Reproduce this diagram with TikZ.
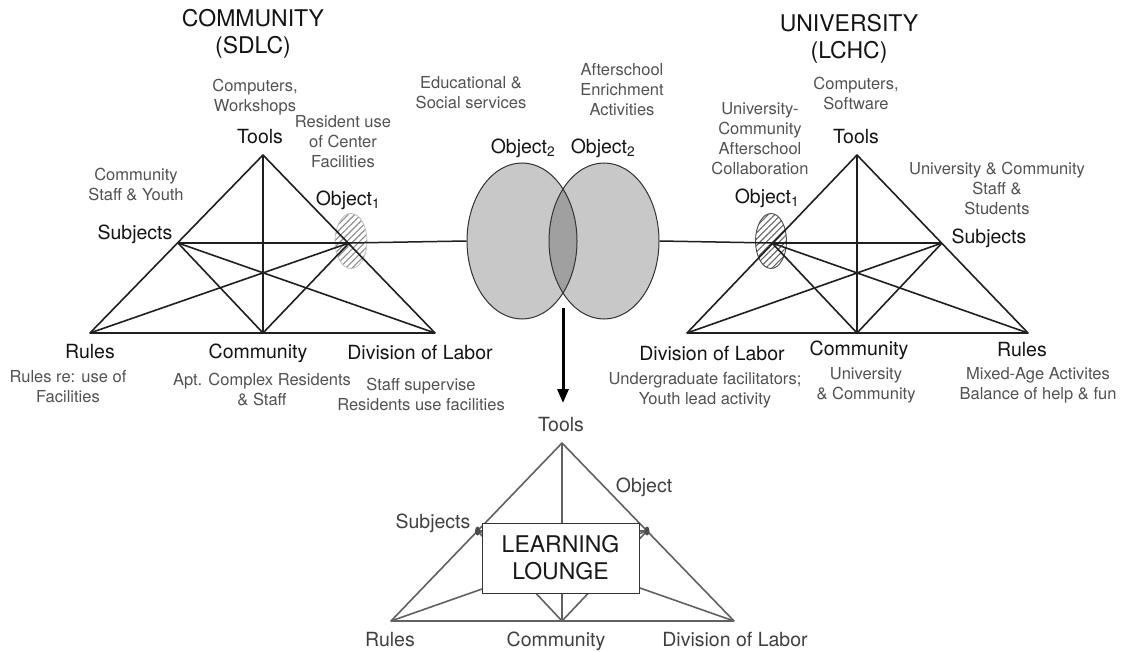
\documentclass[tikz,border=0pt]{standalone}
\usepackage{fontspec}
\setmainfont{TeX Gyre Heros}
\usetikzlibrary{patterns.meta,arrows.meta,shapes.geometric}
\definecolor{ellfill}{RGB}{200,200,200}
\definecolor{ovfill}{RGB}{160,160,160}
\begin{document}
\begin{tikzpicture}[x=1pt,y=-1pt,
  lab/.style={font=\fontsize{19.5}{22}\selectfont, text=black!92, inner sep=0pt},
  desc/.style={font=\fontsize{16.5}{20}\selectfont, text=black!68, align=center, inner sep=0pt},
  ttl/.style={font=\fontsize{23}{27}\selectfont, text=black!92, align=center, inner sep=0pt},
  edge/.style={draw=black!88, line width=1.6pt, line join=round},
  bedge/.style={draw=black!62, line width=1.6pt, line join=round},
  bigell/.style={ellipse, minimum width=110pt, minimum height=156pt, inner sep=0pt, draw=black!80, line width=1pt},
]
\useasboundingbox (0,0) rectangle (1131,652);
\fill[white] (0,0) rectangle (1131,652);

% ---------- left triangle (community) ----------
\coordinate (LT) at (263,155);
\coordinate (LR) at (90,333);
\coordinate (LC) at (263,333);
\coordinate (LD) at (435,333);
\coordinate (LS) at (178,243);
\coordinate (LO) at (349,243);

% left object1 hatched ellipse
\path[pattern={Lines[angle=45,distance=4.5pt,line width=1.1pt]}, pattern color=black!45, draw=black!25, line width=0.8pt]
  (351,241) ellipse [x radius=16pt, y radius=27.5pt];

\draw[edge] (LR) -- (LT) -- (LD) -- cycle;
\draw[edge] (LT) -- (LC);
\draw[edge] (LS) -- (LO);
\draw[edge] (LS) -- (LC);
\draw[edge] (LS) -- (LD);
\draw[edge] (LO) -- (LR);
\draw[edge] (LO) -- (LC);

% ---------- centre ellipses ----------
\fill[ellfill] (522,241) ellipse [x radius=55pt, y radius=78pt];
\fill[ellfill] (604,241) ellipse [x radius=55pt, y radius=78pt];
\begin{scope}
  \clip (522,241) ellipse [x radius=55pt, y radius=78pt];
  \fill[ovfill] (604,241) ellipse [x radius=55pt, y radius=78pt];
\end{scope}
\node[bigell] (E1) at (522,241) {};
\node[bigell] (E2) at (604,241) {};
\draw[edge, line width=1.5pt] (LO) -- (E1.west);

% ---------- right triangle (university) ----------
\coordinate (RT) at (857,155);
\coordinate (RD) at (687,333);
\coordinate (RC) at (857,333);
\coordinate (RR) at (1028,333);
\coordinate (RS) at (942,243);
\coordinate (RO) at (772,243);

\path[pattern={Lines[angle=45,distance=4.5pt,line width=1.1pt]}, pattern color=black!60, draw=black!70, line width=0.9pt]
  (771,241) ellipse [x radius=15.5pt, y radius=27.5pt];

\draw[edge, line width=1.5pt] (E2.east) -- (RO);
\draw[edge] (RD) -- (RT) -- (RR) -- cycle;
\draw[edge] (RT) -- (RC);
\draw[edge] (RO) -- (RS);
\draw[edge] (RO) -- (RC);
\draw[edge] (RO) -- (RR);
\draw[edge] (RS) -- (RD);
\draw[edge] (RS) -- (RC);

% ---------- arrow ----------
\coordinate (A1) at (563,308);
\coordinate (A2) at (563,403);
\draw[black, line width=3pt, -{Triangle[length=14pt,width=11pt]}] (A1) -- (A2);

% ---------- bottom triangle ----------
\coordinate (BT) at (562,443);
\coordinate (BR) at (391,621);
\coordinate (BC) at (562,621);
\coordinate (BD) at (734,621);
\coordinate (BS) at (477.5,531);
\coordinate (BO) at (647,531);

\draw[bedge] (BR) -- (BT) -- (BD) -- cycle;
\draw[bedge] (BT) -- (BC);
\draw[bedge] (BS) -- (BO);
\draw[bedge] (BS) -- (BC);
\draw[bedge] (BS) -- (BD);
\draw[bedge] (BO) -- (BR);
\draw[bedge] (BO) -- (BC);
\fill[black!70] (BS) ellipse [x radius=2.5pt, y radius=4.5pt];
\fill[black!70] (BO) ellipse [x radius=2.5pt, y radius=4.5pt];

\node[draw=black!80, fill=white, line width=1pt, minimum width=157pt, minimum height=70pt, inner sep=0pt,
      align=center, font=\fontsize{23}{27}\selectfont, text=black!90] (LL) at (560.5,558) {LEARNING\\LOUNGE};

% ---------- texts, left ----------
\node[ttl] (t1) at (253,33.5) {COMMUNITY\\(SDLC)};
\node[desc] (d1) at (255,97) {Computers,\\Workshops};
\node[lab] (n1) at (260,137) {Tools};
\node[desc] (d2) at (343,142) {Resident use\\of Center\\Facilities};
\node[desc] (d3) at (136,185) {Community\\Staff \& Youth};
\node[lab] (n2) at (135,234) {Subjects};
\node[lab] (n3) at (348,200) {Object\textsubscript{1}};
\node[lab] (n4) at (90,352) {Rules};
\node[lab] (n5) at (258,353) {Community};
\node[lab] (n6) at (420,353) {Division of Labor};
\node[desc] (d4) at (68,387) {Rules re: use of\\Facilities};
\node[desc] (d5) at (262,389.5) {Apt. Complex Residents\\\& Staff};
\node[desc] (d6) at (421,394) {Staff supervise\\Residents use facilities};

% ---------- texts, centre ----------
\node[desc] (d7) at (471,93) {Educational \&\\Social services};
\node[desc] (d8) at (622,90) {Afterschool\\Enrichment\\Activities};
\node[lab] (n7) at (523,148) {Object\textsubscript{2}};
\node[lab] (n8) at (603,148) {Object\textsubscript{2}};

% ---------- texts, right ----------
\node[ttl] (t2) at (849,38.5) {UNIVERSITY\\(LCHC)};
\node[desc] (d9) at (856,93) {Computers,\\Software};
\node[desc] (d10) at (760,138.5) {University-\\Community\\Afterschool\\Collaboration};
\node[lab] (n9) at (856,137) {Tools};
\node[desc] (d11) at (997,188) {University \& Community\\Staff \&\\Students};
\node[lab] (n10) at (989,238) {Subjects};
\node[lab] (n11) at (767,198) {Object\textsubscript{1}};
\node[lab] (n12) at (712,354) {Division of Labor};
\node[lab] (n13) at (859,350) {Community};
\node[lab] (n14) at (1022,350) {Rules};
\node[desc] (d12) at (705,390) {Undergraduate facilitators;\\Youth lead activity};
\node[desc] (d13) at (866,385) {University\\\& Community};
\node[desc] (d14) at (1038,385) {Mixed-Age Activites\\Balance of help \& fun};

% ---------- texts, bottom ----------
\node[lab, text=black!75] (n15) at (561,425) {Tools};
\node[lab, text=black!75] (n16) at (644,487) {Object};
\node[lab, text=black!75] (n17) at (433,523) {Subjects};
\node[lab, text=black!75] (n18) at (390,640) {Rules};
\node[lab, text=black!75] (n19) at (556,641) {Community};
\node[lab, text=black!75] (n20) at (735,640) {Division of Labor};
\end{tikzpicture}
\end{document}
